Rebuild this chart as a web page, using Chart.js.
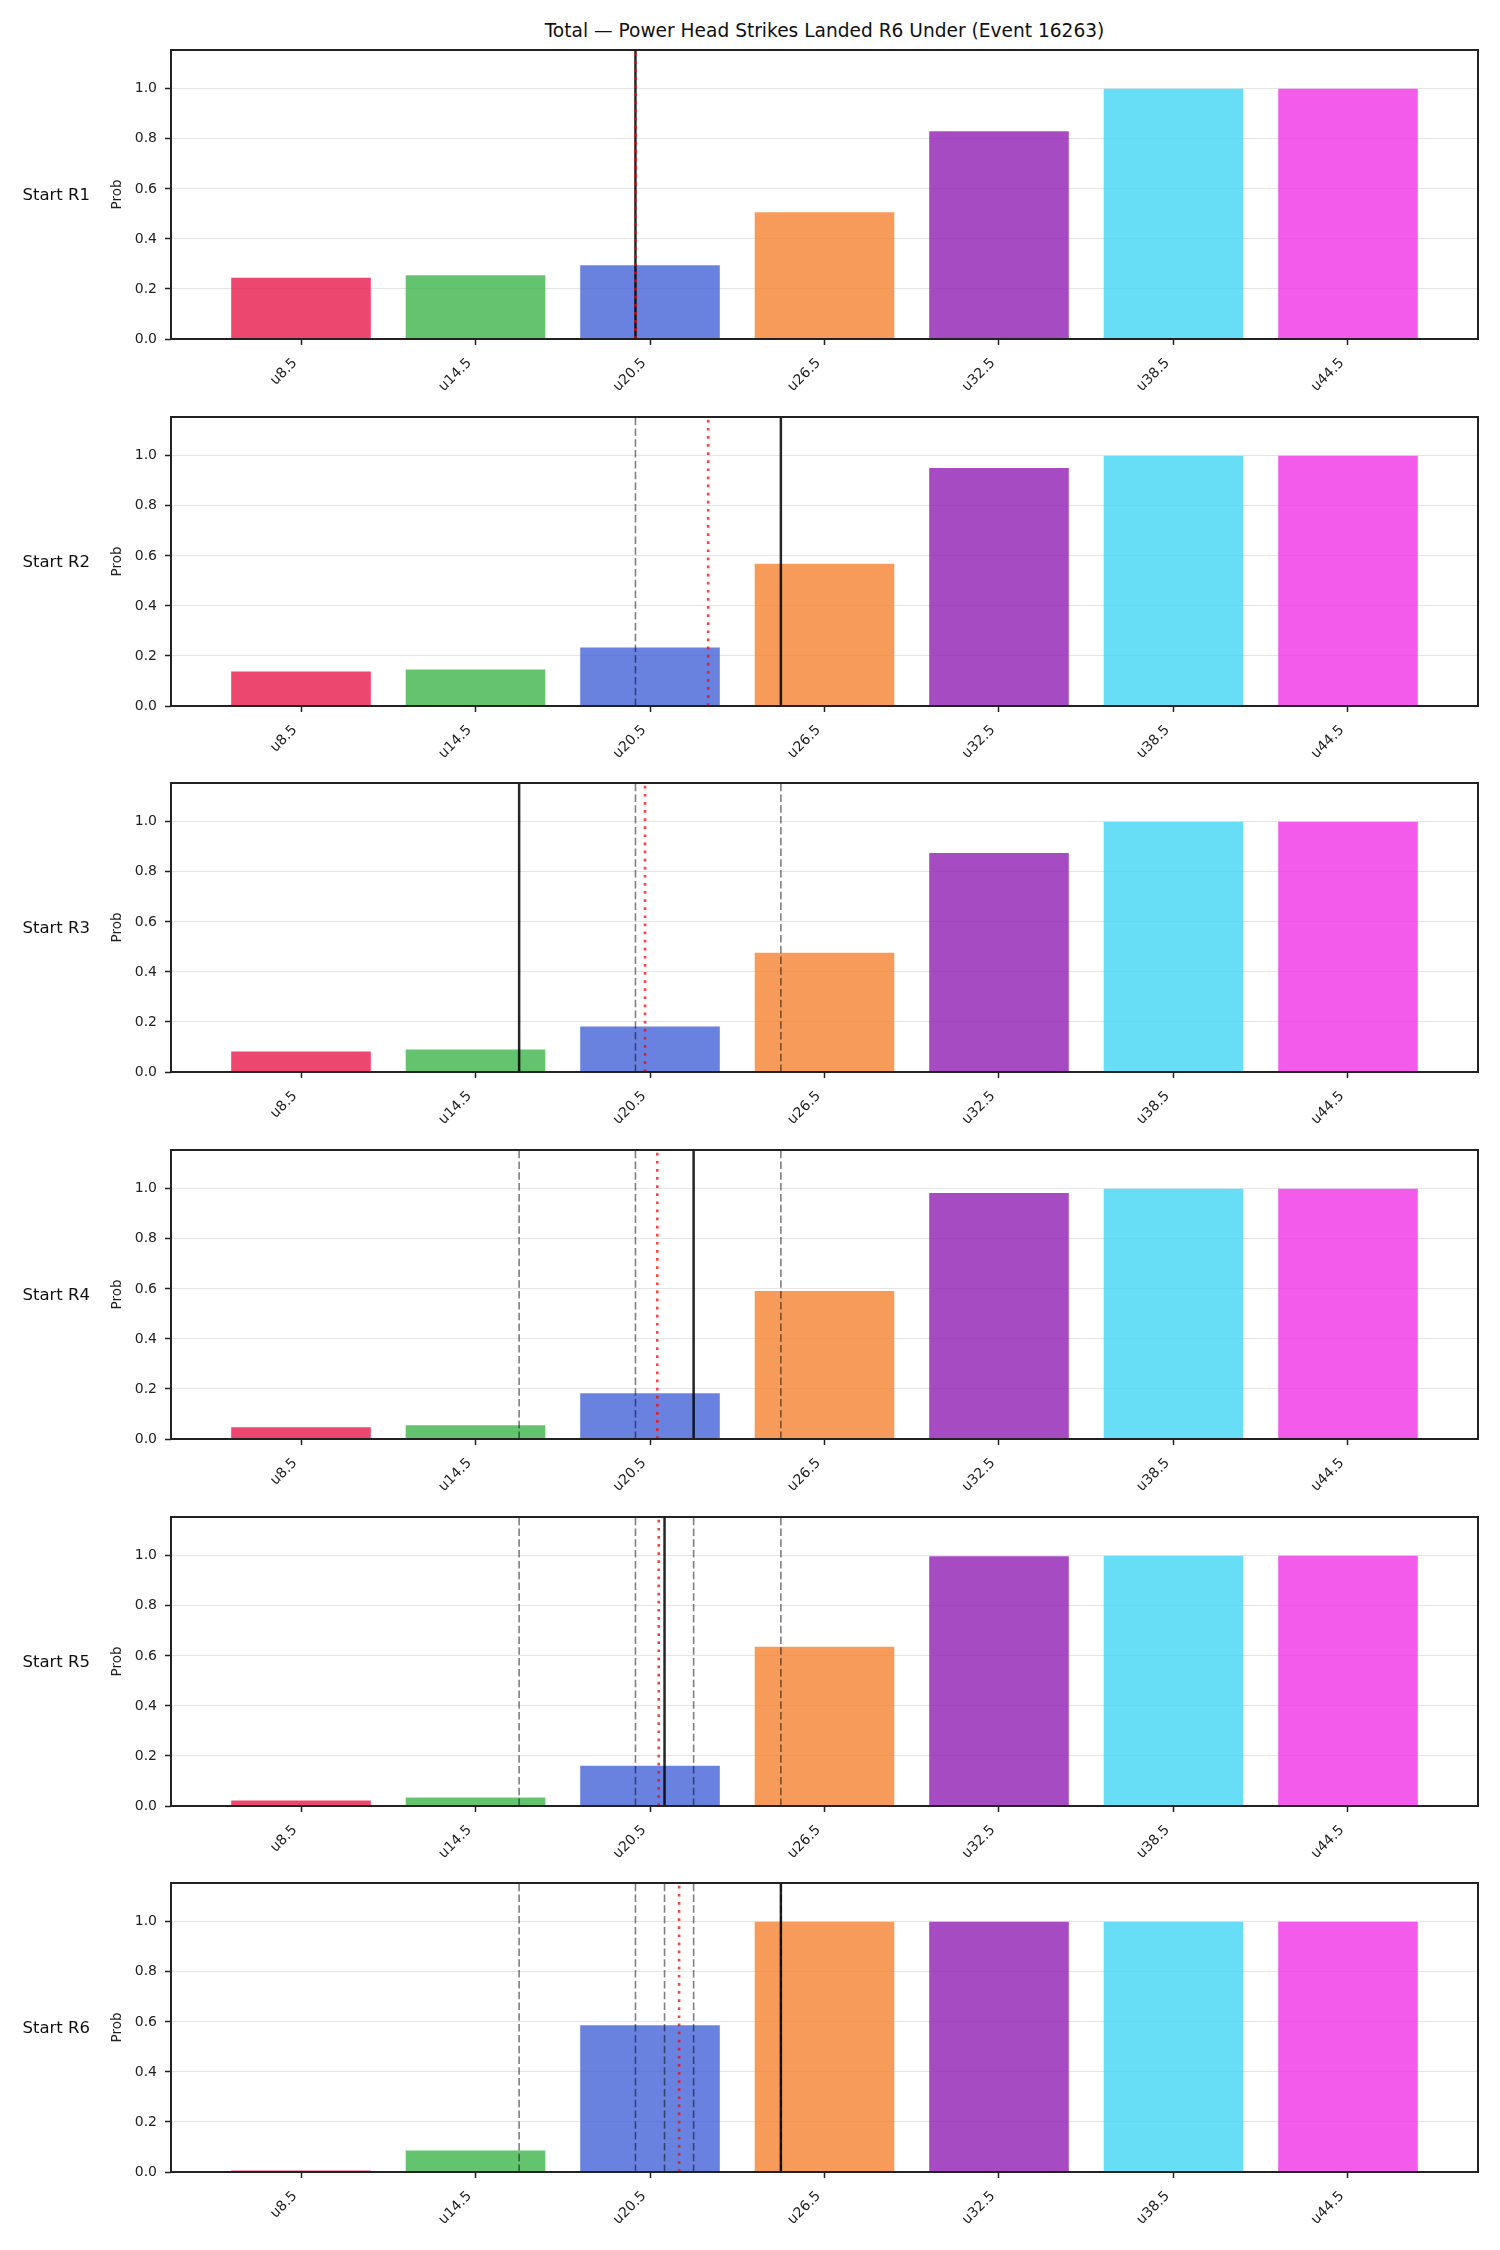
<!DOCTYPE html>
<html>
<head>
    <title>Power Head Strikes Landed R6 Under</title>
    <script src="https://cdn.jsdelivr.net/npm/chart.js"></script>
    <style>
        body { margin: 0; background: #fff; font-family: 'DejaVu Sans', sans-serif; }
        #wrap { position: relative; width: 1500px; height: 2250px; }
        #wrap canvas { position: absolute; left: 0; }
        .title { position: absolute; left: 171px; width: 1307px; top: 19px; text-align: center; font-size: 18.6px; color: #111; line-height: 24px; }
        .rowlab { position: absolute; left: 0; width: 90px; text-align: right; font-size: 16.5px; color: #111; line-height: 20px; }
    </style>
</head>
<body>
<div id="wrap">
    <div class="title">Total — Power Head Strikes Landed R6 Under (Event 16263)</div>
</div>

<script>
// under thresholds (x positions) and their labels
const lines = [8.5, 14.5, 20.5, 26.5, 32.5, 38.5, 44.5];
const tickLabels = ['u8.5', 'u14.5', 'u20.5', 'u26.5', 'u32.5', 'u38.5', 'u44.5'];
const rounds = ['Start R1', 'Start R2', 'Start R3', 'Start R4', 'Start R5', 'Start R6'];
const yTicks = [0, 0.2, 0.4, 0.6, 0.8, 1.0];

// P(under) per round
const probR1 = [0.245, 0.255, 0.295, 0.507, 0.83, 1.0, 1.0];
const probR2 = [0.138, 0.146, 0.234, 0.569, 0.951, 1.0, 1.0];
const probR3 = [0.082, 0.09, 0.182, 0.477, 0.875, 1.0, 1.0];
const probR4 = [0.047, 0.055, 0.183, 0.591, 0.983, 1.0, 1.0];
const probR5 = [0.022, 0.034, 0.161, 0.636, 0.998, 1.0, 1.0];
const probR6 = [0.006, 0.086, 0.586, 1.0, 1.0, 1.0, 1.0];
const probs = [probR1, probR2, probR3, probR4, probR5, probR6];

// reference lines per round
const currentLine = [20, 25, 16, 22, 21, 25];
const meanLine = [20, 22.5, 20.33, 20.75, 20.8, 21.5];
const priorLines = [
    [],
    [20],
    [20, 25],
    [20, 25, 16],
    [20, 25, 16, 22],
    [20, 25, 16, 22, 21]
];

const barColors = [
    'rgba(230,25,75,0.8)', 'rgba(60,180,75,0.8)', 'rgba(67,99,216,0.8)',
    'rgba(245,130,49,0.8)', 'rgba(145,30,180,0.8)', 'rgba(66,212,244,0.8)',
    'rgba(240,50,230,0.8)'
];

const yMax = 1.155;
const xMin = 4.03, xMax = 48.97;
const axTops = [50, 417, 783, 1150, 1517, 1883];
const axH = 289;
const padTop = 10, xAxisH = 60;

Chart.defaults.font.family = "'DejaVu Sans', sans-serif";
Chart.defaults.color = '#222';

const frame = {
    id: 'frame',
    afterDraw(chart) {
        const a = chart.chartArea, c = chart.ctx;
        c.save();
        c.strokeStyle = '#222';
        c.lineWidth = 2;
        c.strokeRect(a.left, a.top, a.right - a.left, a.bottom - a.top);
        c.restore();
    }
};

function vline(x, color, width, dash, order) {
    return {
        type: 'line',
        data: [{x: x, y: 0}, {x: x, y: yMax}],
        borderColor: color,
        borderWidth: width,
        borderDash: dash,
        pointRadius: 0,
        order: order
    };
}

const wrap = document.getElementById('wrap');

rounds.forEach((name, r) => {
    const cv = document.createElement('canvas');
    cv.width = 1500;
    cv.height = padTop + axH + xAxisH;
    cv.style.top = (axTops[r] - padTop) + 'px';
    wrap.appendChild(cv);

    const lab = document.createElement('div');
    lab.className = 'rowlab';
    lab.textContent = name;
    lab.style.top = (axTops[r] + axH / 2 - 10) + 'px';
    wrap.appendChild(lab);

    const datasets = [];
    datasets.push(vline(meanLine[r], 'rgba(255,0,0,0.75)', 2.6, [2.7, 5.4], 0));
    datasets.push(vline(currentLine[r], 'rgba(0,0,0,0.85)', 2.5, [], 1));
    priorLines[r].forEach(v => {
        datasets.push(vline(v, 'rgba(0,0,0,0.5)', 1.6, [7.5, 3.3], 2));
    });
    datasets.push({
        type: 'bar',
        data: lines.map((x, i) => ({x: x, y: probs[r][i]})),
        backgroundColor: barColors,
        borderWidth: 0,
        barPercentage: 0.8,
        categoryPercentage: 1.0,
        order: 3
    });

    new Chart(cv.getContext('2d'), {
        type: 'bar',
        data: { datasets: datasets },
        options: {
            responsive: false,
            animation: false,
            layout: { padding: { left: 105, right: 22, top: padTop, bottom: 0 } },
            plugins: { legend: { display: false }, tooltip: { enabled: false } },
            scales: {
                x: {
                    type: 'linear',
                    min: xMin,
                    max: xMax,
                    offset: false,
                    afterBuildTicks: axis => { axis.ticks = lines.map(v => ({value: v})); },
                    afterFit: axis => {
                        axis.height = xAxisH;
                        axis.paddingLeft = 0; axis.paddingRight = 0;
                    },
                    ticks: {
                        autoSkip: false,
                        maxRotation: 45,
                        minRotation: 45,
                        padding: 10,
                        labelOffset: -6,
                        font: { size: 14 },
                        callback: v => tickLabels[lines.indexOf(v)]
                    },
                    grid: { offset: false, drawOnChartArea: false, tickLength: 6, tickColor: '#222', tickWidth: 1.5 },
                    border: { display: false }
                },
                y: {
                    min: 0,
                    max: yMax,
                    afterBuildTicks: axis => { axis.ticks = yTicks.map(v => ({value: v})); },
                    afterFit: axis => {
                        axis.width = 66;
                        axis.paddingTop = 0; axis.paddingBottom = 0;
                    },
                    ticks: {
                        padding: 8,
                        font: { size: 14 },
                        callback: v => v.toFixed(1)
                    },
                    grid: { color: 'rgba(0,0,0,0.1)', lineWidth: 1, tickLength: 6, tickColor: '#222', tickWidth: 1.5 },
                    border: { display: false },
                    title: { display: true, text: 'Prob', font: { size: 13.5 }, color: '#222' }
                }
            }
        },
        plugins: [frame]
    });
});
</script>
</body>
</html>
